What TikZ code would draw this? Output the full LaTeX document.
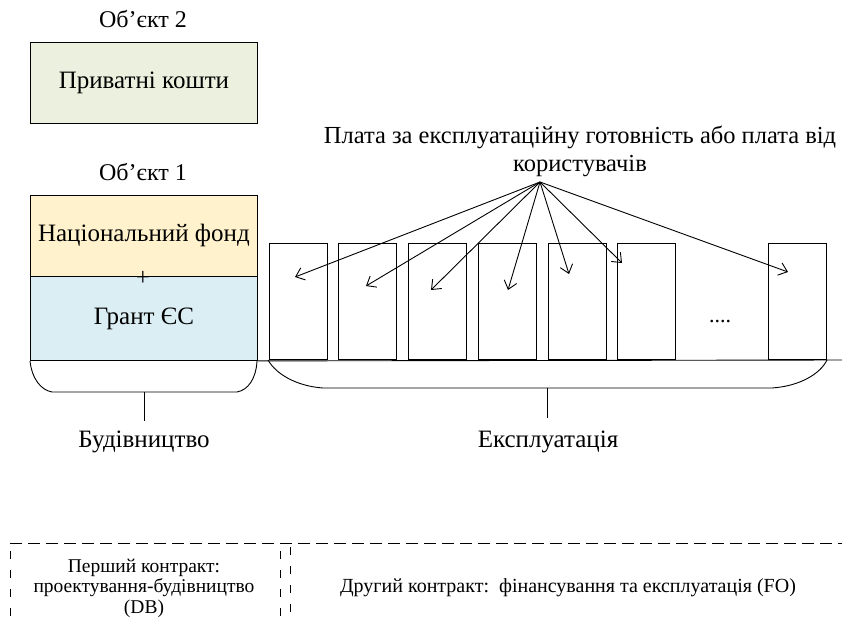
\documentclass[tikz,border=0pt]{standalone}
\usepackage{fontspec}
\setmainfont{Liberation Serif}
\usetikzlibrary{arrows.meta}
\definecolor{cgreen}{HTML}{EBF1DE}
\definecolor{corange}{HTML}{FFF2CC}
\definecolor{cblue}{HTML}{DAEEF3}
\tikzset{
  fundbox/.style={draw, line width=0.9pt, minimum width=227pt, anchor=north west, inner sep=0pt, font=\fontsize{25}{28}\selectfont},
  slot/.style={draw, line width=0.9pt, minimum width=58pt, minimum height=116pt, anchor=south west, inner sep=0pt},
  lbl/.style={font=\fontsize{25}{28}\selectfont, inner sep=0pt},
  ttl/.style={font=\fontsize{24}{28}\selectfont, inner sep=0pt},
  small/.style={font=\fontsize{20}{20.5}\selectfont, inner sep=0pt, align=center},
  payarrow/.style={line width=0.9pt, -{Straight Barb[length=8pt,width=13pt]}},
  brace/.style={line width=0.9pt},
  dashline/.style={line width=0.9pt, dash pattern=on 12pt off 6pt},
  vdashline/.style={line width=0.9pt, dash pattern=on 8pt off 11pt},
}
\begin{document}
\begin{tikzpicture}[x=1pt,y=-1pt]
\useasboundingbox (0,0) rectangle (842,621);
% object 2
\node[ttl] (o2) at (143,19) {Об’єкт 2};
\node[fundbox, fill=cgreen, minimum height=81pt] (priv) at (30,42) {Приватні кошти};
% object 1
\node[ttl] (o1) at (143,172) {Об’єкт 1};
\node[fundbox, fill=corange, minimum height=81pt] (nat) at (30,195) {Національний фонд};
\node[fundbox, fill=cblue, minimum height=84pt] (eu) at (30,276) {Грант ЄС};
\node[lbl] (plus) at (143,278.5) {+};
% baseline
\coordinate (bl) at (842,360);
\draw[line width=0.9pt] (eu.south east) -- (bl);
% slots
\node[slot] (s1) at (269,360) {};
\node[slot] (s2) at (338,360) {};
\node[slot] (s3) at (408,360) {};
\node[slot] (s4) at (478,360) {};
\node[slot] (s5) at (548,360) {};
\node[slot] (s6) at (617,360) {};
\node[slot] (s7) at (768,360) {};
\node[lbl, font=\fontsize{22}{24}\selectfont] (dots) at (720,322) {....};
% payment label
\node[lbl, align=center, font=\fontsize{24.5}{28}\selectfont] (pay) at (580,151) {Плата за експлуатаційну готовність або плата від\\користувачів};
\coordinate (src) at (540,182);
\coordinate (t1) at (295,277);
\coordinate (t2) at (366,286);
\coordinate (t3) at (431,290);
\coordinate (t4) at (508,290);
\coordinate (t5) at (569,274);
\coordinate (t6) at (622,263);
\coordinate (t7) at (788,272);
\foreach \t in {t1,t2,t3,t4,t5,t6,t7} \draw[payarrow] (src) -- (\t);
% braces
\draw[brace] (30,361) .. controls (32,379) and (41,390) .. (52,392) -- (237,392) .. controls (248,390) and (256,379) .. (257,361);
\coordinate (lb) at (144,392);
\coordinate (lbe) at (144,421);
\draw[brace] (lb) -- (lbe);
\draw[brace] (268,360) .. controls (276,374) and (296,386) .. (323,388) -- (772,388) .. controls (800,386) and (820,374) .. (827,360);
\coordinate (rb) at (547,388);
\coordinate (rbe) at (547,418);
\draw[brace] (rb) -- (rbe);
\node[lbl] (build) at (144,442) {Будівництво};
\node[lbl] (oper) at (548,442) {Експлуатація};
% contracts
\coordinate (dl) at (10,543);
\coordinate (dr) at (842,543);
\draw[dashline] (dl) -- (dr);
\coordinate (v1a) at (10,551); \coordinate (v1b) at (10,621);
\coordinate (v2a) at (280,551); \coordinate (v2b) at (280,621);
\coordinate (v3a) at (290,547); \coordinate (v3b) at (290,621);
\draw[vdashline] (v1a) -- (v1b);
\draw[vdashline] (v2a) -- (v2b);
\draw[vdashline] (v3a) -- (v3b);
\node[small, font=\fontsize{19.5}{20.5}\selectfont] (c1) at (144,588) {Перший контракт:\\проектування-будівництво\\(DB)};
\node[small] (c2) at (568,588) {Другий контракт:\ \ фінансування та експлуатація (FO)};
\end{tikzpicture}
\end{document}
